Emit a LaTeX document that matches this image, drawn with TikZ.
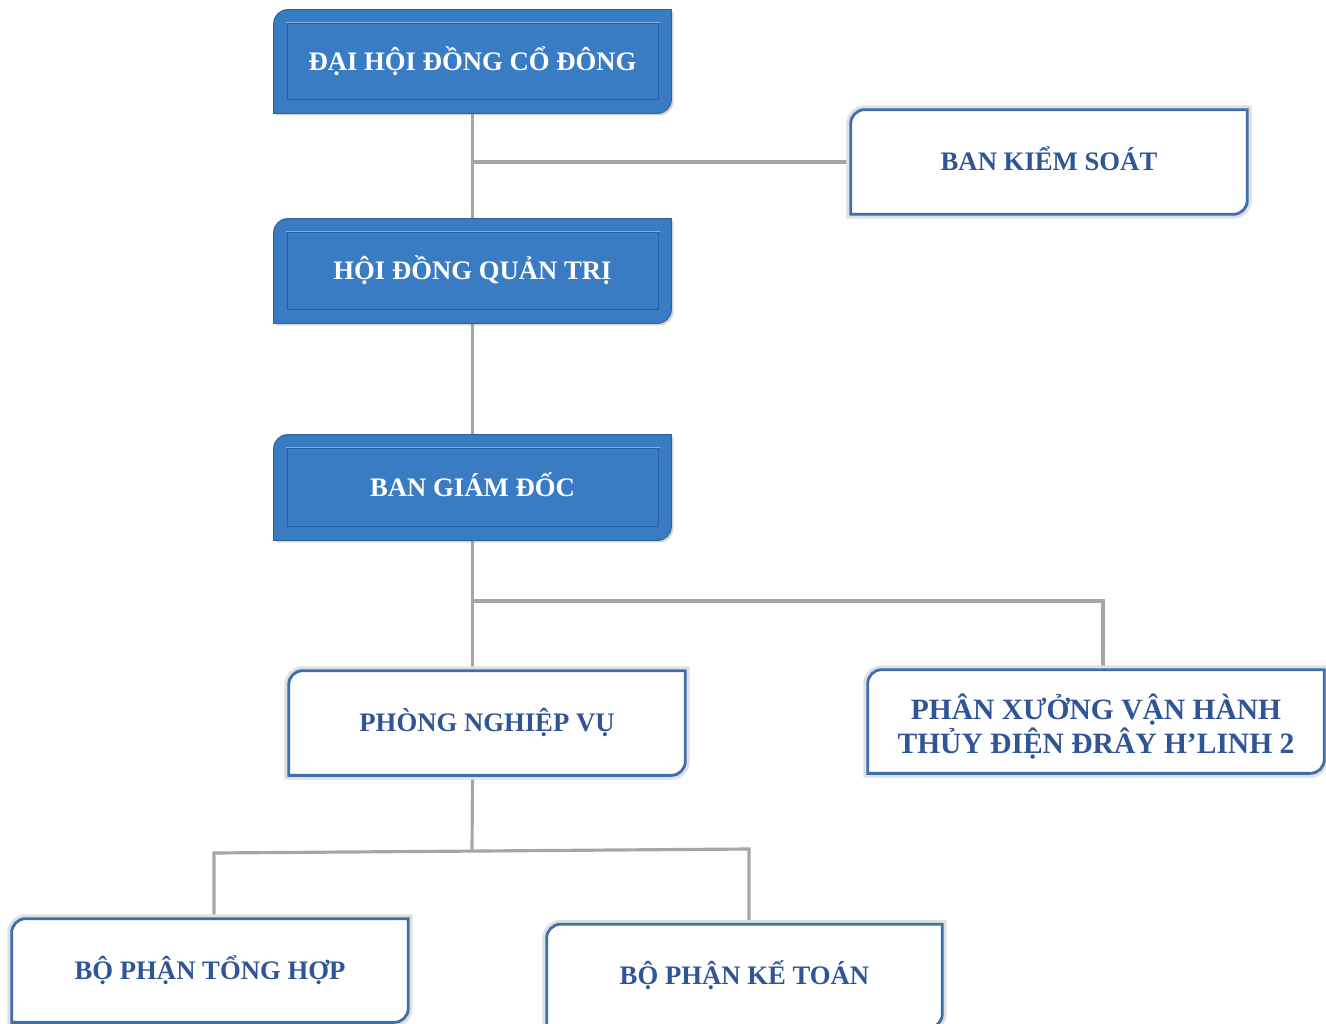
\documentclass[tikz,border=0pt]{standalone}
\usepackage{fontspec}
\setmainfont{Liberation Serif}
\usetikzlibrary{positioning, calc, backgrounds, shadows}

\definecolor{boxblue}{HTML}{3A7CC3}
\definecolor{bevelblue}{HTML}{28609F}
\definecolor{edgeblue}{HTML}{3E6FAA}
\definecolor{textblue}{HTML}{2F5597}
\definecolor{linegray}{HTML}{A6A6A6}

\def\crad{0.28cm}
% outline with rounded top-left and bottom-right corners
\newcommand{\orgshape}[2]{%
  \path[#1] ([xshift=\crad]#2.north west) -- (#2.north east)
    -- ([yshift=\crad]#2.south east) arc[start angle=0, end angle=-90, radius=\crad]
    -- (#2.south west) -- ([yshift=-\crad]#2.north west)
    arc[start angle=180, end angle=90, radius=\crad] -- cycle;}

\tikzset{
  unit/.style={inner sep=0pt, align=center, text height=10.1pt, text depth=0pt,
    font=\fontsize{15.2}{19.3}\selectfont\bfseries},
  bluebox/.style={unit, text=white},
  whitebox/.style={unit, text=textblue},
  blueshape/.style={fill=boxblue, draw=boxblue!80!black, line width=0.6pt,
    drop shadow={shadow xshift=1.2pt, shadow yshift=-1.2pt, opacity=0.35}},
  whiteshape/.style={fill=white, draw=edgeblue, line width=1.6pt,
    preaction={draw=black!12, line width=5pt}},
  link/.style={draw=linegray, line width=1.8pt}
}

\begin{document}
\begin{tikzpicture}[x=0.02cm, y=-0.02cm]
\useasboundingbox (0,0) rectangle (1326,1024);

% boxes
\node[bluebox, minimum width=7.94cm, minimum height=2.06cm] (dhd) at (472.5,61.5) {ĐẠI HỘI ĐỒNG CỔ ĐÔNG};
\node[whitebox, minimum width=7.92cm, minimum height=2.08cm] (bks) at (1049,162) {BAN KIỂM SOÁT};
\node[bluebox, minimum width=7.94cm, minimum height=2.08cm] (hdqt) at (472.5,271) {HỘI ĐỒNG QUẢN TRỊ};
\node[bluebox, minimum width=7.94cm, minimum height=2.10cm] (bgd) at (472.5,487.5) {BAN GIÁM ĐỐC};
\node[whitebox, minimum width=7.92cm, minimum height=2.08cm] (pnv) at (487,723) {PHÒNG NGHIỆP VỤ};
\node[whitebox, minimum width=9.12cm, minimum height=2.06cm, text height=36pt,
  font=\fontsize{16.8}{19.3}\selectfont\bfseries] (pxvh) at (1096,721.5) {PHÂN XƯỞNG VẬN HÀNH\\THỦY ĐIỆN ĐRÂY H’LINH 2};
\node[whitebox, minimum width=7.92cm, minimum height=2.06cm] (bpth) at (210,970.5) {BỘ PHẬN TỔNG HỢP};
\node[whitebox, minimum width=7.90cm, minimum height=2.06cm] (bpkt) at (744.5,976) {BỘ PHẬN KẾ TOÁN};

% junctions
\coordinate (j1) at (dhd.south |- bks.west);
\coordinate (j2) at (472,601);
\coordinate (j3) at (1103,601);
\coordinate (j4) at (472,851);
\coordinate (j5) at (214,853);
\coordinate (j6) at (749,849);

\begin{scope}[on background layer]
  % connectors
  \draw[link] (dhd.south) -- (hdqt.north);
  \draw[link] (j1) -- (bks.west);
  \draw[link] (hdqt.south) -- (bgd.north);
  \draw[link] (bgd.south) -- (bgd.south |- pnv.north);
  \draw[link] (j2) -- (j3) -- (j3 |- pxvh.north);
  \draw[link] (bgd.south |- pnv.south) -- (j4);
  \draw[link] (j5 |- bpth.north) -- (j5) -- (j6) -- (j6 |- bpkt.north);

  % shapes
  \foreach \n in {dhd, hdqt, bgd}{
    \orgshape{blueshape}{\n}
    \draw[bevelblue, line width=0.9pt] ([shift={(0.28cm,-0.28cm)}]\n.north west) rectangle ([shift={(-0.26cm,0.28cm)}]\n.south east);
    \draw[boxblue!60!white, line width=0.5pt] ([shift={(0.25cm,-0.25cm)}]\n.north west) -- ([shift={(-0.23cm,-0.25cm)}]\n.north east);
  }
  \foreach \n in {bks, pnv, pxvh, bpth, bpkt}{
    \orgshape{whiteshape}{\n}
  }
\end{scope}
\end{tikzpicture}
\end{document}
